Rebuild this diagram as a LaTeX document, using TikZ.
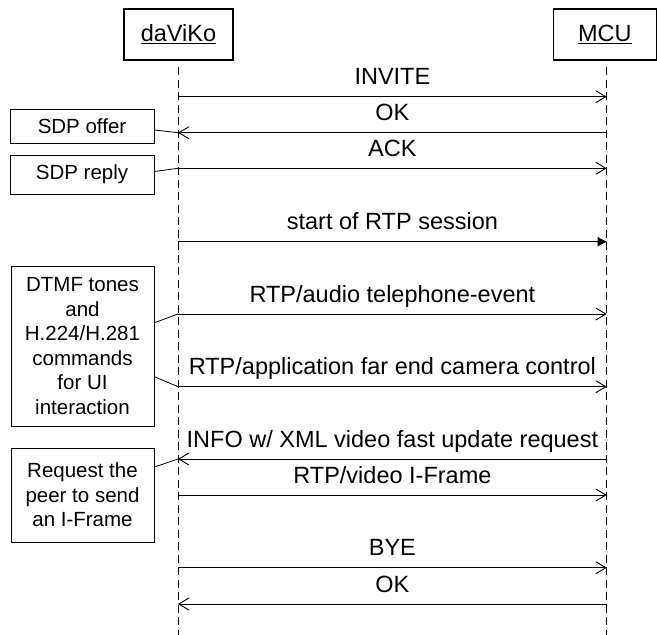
\documentclass[tikz,border=0pt]{standalone}
\usepackage{fontspec}
\setmainfont{Liberation Sans}
\usetikzlibrary{arrows.meta,calc}
\begin{document}
\begin{tikzpicture}[x=1pt,y=1pt,
  actor/.style={draw,line width=1.1pt,inner sep=0pt,font=\fontsize{23.5}{27}\selectfont},
  note/.style={draw,line width=0.9pt,inner sep=0pt,align=center,font=\fontsize{20.5}{24.5}\selectfont},
  life/.style={line width=0.9pt,dash pattern=on 8pt off 4.5pt},
  msg/.style={line width=0.9pt,-{Straight Barb[length=10pt,width=12pt,line width=0.9pt]}},
  msgf/.style={line width=0.9pt,-{Triangle[length=9pt,width=9pt]}},
  lbl/.style={anchor=base,inner sep=0pt,font=\fontsize{23.5}{27}\selectfont},
  link/.style={line width=0.8pt}]
\useasboundingbox (0,0) rectangle (657,-635);
% participants
\node[actor,minimum width=109pt,minimum height=51pt] (dv) at (178.5,-34.5) {\underline{daViKo}};
\node[actor,minimum width=103.5pt,minimum height=51pt] (mcu) at (604.8,-34.5) {\underline{MCU}};
% lifelines
\coordinate (dvtop) at (178,-67);
\coordinate (dvbot) at (178,-635);
\coordinate (mctop) at (606.7,-67);
\coordinate (mcbot) at (606.7,-635);
\draw[life] (dvtop) -- (dvbot);
\draw[life] (mctop) -- (mcbot);
% message end points
\foreach \n/\y in {1/96.7,2/132.7,3/168.3,4/241.7,5/314,6/386.7,7/459,8/495,9/567.7,10/604}{
  \coordinate (L\n) at (178,-\y);
  \coordinate (R\n) at (606.7,-\y);
  \coordinate (T\n) at (392.4,-\y+11.8);
}
% messages
\draw[msg] (L1) -- (R1);
\node[lbl] (t1) at (T1) {INVITE};
\draw[msg] (R2) -- (L2);
\node[lbl] (t2) at (T2) {OK};
\draw[msg] (L3) -- (R3);
\node[lbl] (t3) at (T3) {ACK};
\draw[msgf] (L4) -- (R4);
\node[lbl] (t4) at (T4) {start of RTP session};
\draw[msg] (L5) -- (R5);
\node[lbl] (t5) at (T5) {RTP/audio telephone-event};
\draw[msg] (L6) -- (R6);
\node[lbl] (t6) at (T6) {RTP/application far end camera control};
\draw[msg] (R7) -- (L7);
\node[lbl] (t7) at (T7) {INFO w/ XML video fast update request};
\draw[msg] (L8) -- (R8);
\node[lbl] (t8) at (T8) {RTP/video I-Frame};
\draw[msg] (L9) -- (R9);
\node[lbl] (t9) at (T9) {BYE};
\draw[msg] (R10) -- (L10);
\node[lbl] (t10) at (T10) {OK};
% notes
\node[note,minimum width=144pt,minimum height=34pt] (offer) at (82,-126) {SDP offer};
\node[note,minimum width=144pt,minimum height=39pt] (reply) at (82,-174.5) {SDP reply};
\node[note,minimum width=143pt,minimum height=160pt] (dtmf) at (82.5,-346) {DTMF tones\\and\\H.224/H.281\\commands\\for UI\\interaction};
\node[note,minimum width=143pt,minimum height=94pt] (req) at (82.5,-495) {Request the\\peer to send\\an I-Frame};
% note links
\draw[link] ([yshift=-4pt]offer.east) -- (L2);
\draw[link] ([yshift=3pt]reply.east) -- (L3);
\draw[link] ([yshift=23.3pt]dtmf.east) -- (L5);
\draw[link] ([yshift=-30.7pt]dtmf.east) -- (L6);
\draw[link] ([yshift=28pt]req.east) -- (L7);
\end{tikzpicture}
\end{document}
